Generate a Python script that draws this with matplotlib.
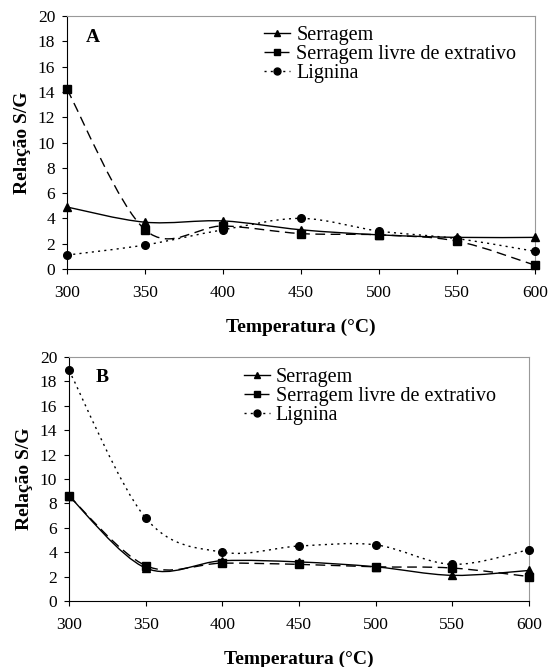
import numpy as np
import matplotlib
matplotlib.use("Agg")
import matplotlib.pyplot as plt
from matplotlib.path import Path
from matplotlib.patches import PathPatch
from matplotlib.lines import Line2D

plt.rcParams['font.family'] = ['Liberation Serif', 'DejaVu Serif']

temps = [300, 350, 400, 450, 500, 550, 600]
labels = ["Serragem", "Serragem livre de extrativo", "Lignina"]

a_serragem = [4.9, 3.7, 3.8, 3.1, 2.7, 2.5, 2.5]
a_livre = [14.2, 3.1, 3.4, 2.8, 2.7, 2.2, 0.3]
a_lignina = [1.1, 1.9, 3.1, 4.0, 3.0, 2.4, 1.4]

b_serragem = [8.6, 2.7, 3.3, 3.2, 2.8, 2.1, 2.5]
b_livre = [8.6, 2.9, 3.1, 3.0, 2.8, 2.7, 2.0]
b_lignina = [18.9, 6.8, 4.0, 4.5, 4.6, 3.0, 4.2]

styles = [
    dict(ls='-', marker='^', lw=1.0, dashes=None),
    dict(ls='--', marker='s', lw=1.0, dashes=(7, 4)),
    dict(ls=':', marker='o', lw=1.0, dashes=(1.5, 3)),
]


def smooth_path(x, y):
    x = np.asarray(x, float)
    y = np.asarray(y, float)
    n = len(x)
    verts = [(x[0], y[0])]
    codes = [Path.MOVETO]
    for i in range(n - 1):
        p0 = np.array([x[max(i - 1, 0)], y[max(i - 1, 0)]])
        p1 = np.array([x[i], y[i]])
        p2 = np.array([x[i + 1], y[i + 1]])
        p3 = np.array([x[min(i + 2, n - 1)], y[min(i + 2, n - 1)]])
        c1 = p1 + (p2 - p0) / 6.0
        c2 = p2 - (p3 - p1) / 6.0
        verts += [tuple(c1), tuple(c2), tuple(p2)]
        codes += [Path.CURVE4] * 3
    return Path(verts, codes)


def panel(ax, series, letter, letter_x, letter_y, legend_x, legend_y):
    for ys, st in zip(series, styles):
        patch = PathPatch(smooth_path(temps, ys), fill=False, edgecolor='black',
                          lw=st['lw'], linestyle=st['ls'], clip_on=False)
        if st['dashes'] is not None:
            patch.set_linestyle((0, st['dashes']))
        ax.add_patch(patch)
        ax.plot(temps, ys, ls='none', marker=st['marker'], color='black',
                markersize=5.5, clip_on=False, zorder=3)
    ax.set_xlim(300, 600)
    ax.set_ylim(0, 20)
    ax.set_xticks(temps)
    ax.set_yticks(range(0, 21, 2))
    ax.tick_params(direction='out', length=3.5, width=0.8, labelsize=12.5, colors='black')
    ax.tick_params(axis='x', pad=8)
    ax.tick_params(axis='y', pad=5)
    for s in ['top', 'right']:
        ax.spines[s].set_color('#999999')
        ax.spines[s].set_linewidth(0.8)
    for s in ['left', 'bottom']:
        ax.spines[s].set_color('black')
        ax.spines[s].set_linewidth(0.8)
    ax.set_ylabel('Relação S/G', fontsize=14, fontweight='bold', labelpad=5)
    ax.set_xlabel('Temperatura (°C)', fontsize=14, fontweight='bold', labelpad=13)
    ax.text(letter_x, letter_y, letter, transform=ax.transAxes, fontsize=14,
            fontweight='bold', ha='center', va='center')
    handles = []
    for st, lab in zip(styles, labels):
        h = Line2D([0], [0], color='black', lw=1.0, marker=st['marker'], markersize=5,
                   linestyle=st['ls'])
        if st['dashes'] is not None:
            h.set_dashes(st['dashes'])
        handles.append(h)
    ax.legend(handles, labels, loc='upper left', bbox_to_anchor=(legend_x, legend_y),
              frameon=False, fontsize=14.5, handlelength=1.3, handletextpad=0.3,
              labelspacing=0.0, borderaxespad=0.3)


fig = plt.figure(figsize=(5.48, 6.67), dpi=100)
ax1 = fig.add_axes([0.1223, 0.5967, 0.854, 0.3793])
ax2 = fig.add_axes([0.1259, 0.099, 0.8394, 0.3658])

panel(ax1, [a_serragem, a_livre, a_lignina], 'A', 0.0556, 0.917, 0.391, 1.016)
panel(ax2, [b_serragem, b_livre, b_lignina], 'B', 0.0717, 0.914, 0.349, 1.012)

fig.savefig('out.png', dpi=100)
